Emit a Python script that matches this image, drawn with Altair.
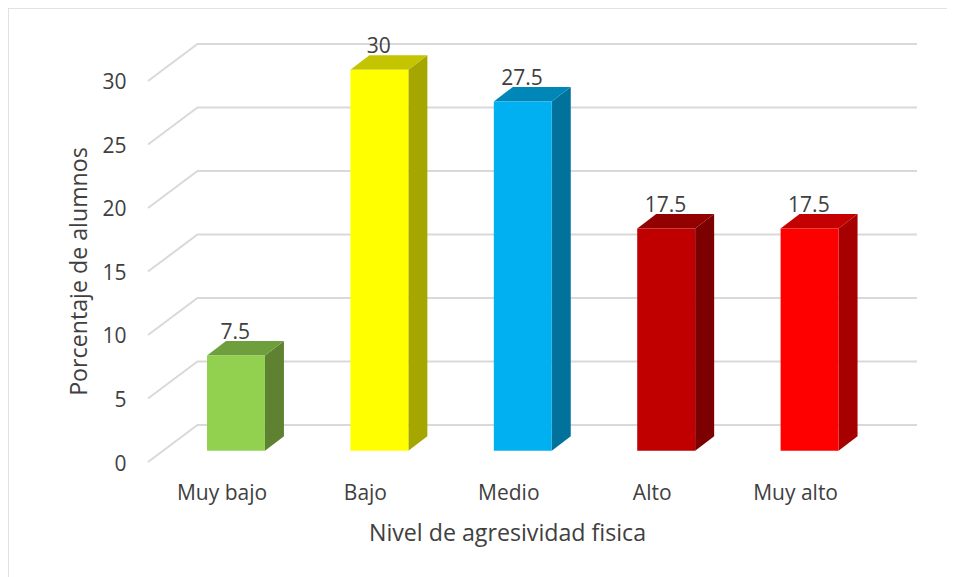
import altair as alt
import pandas as pd

categories = ["Muy bajo", "Bajo", "Medio", "Alto", "Muy alto"]
values = [7.5, 30, 27.5, 17.5, 17.5]
front_colors = ["#92d050", "#ffff00", "#00b0f0", "#c00000", "#ff0000"]
top_colors = ["#6f9e3d", "#c4c400", "#0087b8", "#930000", "#c40000"]
side_colors = ["#5e8232", "#a6a600", "#00729c", "#7c0000", "#a60000"]
ticks = [0, 5, 10, 15, 20, 25, 30]

FONT = "Open Sans"
TEXT = "#404040"
GRID = "#d9d9d9"
FS = 21
TFS = 23.2

# oblique 3D offsets in scale units
BAR_OFF_X, BAR_HALF, BAR_DX = 0.101, 0.202, 0.1325
BAR_OFF_Y, BAR_DY = 0.89, 1.14
WALL_X, WALL_Y = 0.345, 2.91
X_MIN, X_MAX, Y_MAX = -0.5126, 4.8501, 33.228

grid_rows = []
for t in ticks:
    grid_rows += [
        {"t": t, "o": 0, "x": X_MIN, "y": t},
        {"t": t, "o": 1, "x": X_MIN + WALL_X, "y": t + WALL_Y},
        {"t": t, "o": 2, "x": X_MAX, "y": t + WALL_Y},
    ]
grid_df = pd.DataFrame(grid_rows)

front_rows, side_rows, top_rows, label_rows = [], [], [], []
for i, (c, v) in enumerate(zip(categories, values)):
    l = i + BAR_OFF_X - BAR_HALF
    r = i + BAR_OFF_X + BAR_HALF
    y0 = BAR_OFF_Y
    y1 = v + BAR_OFF_Y
    front_rows.append({"c": c, "x": l, "x2": r, "y": y0, "y2": y1, "col": front_colors[i]})
    side_rows += [
        {"c": c, "x": r, "y": y0, "y2": y1, "col": side_colors[i]},
        {"c": c, "x": r + BAR_DX, "y": y0 + BAR_DY, "y2": y1 + BAR_DY, "col": side_colors[i]},
    ]
    top_rows += [
        {"c": c, "x": l, "y": y1, "y2": y1, "col": top_colors[i]},
        {"c": c, "x": l + BAR_DX, "y": y1, "y2": y1 + BAR_DY, "col": top_colors[i]},
        {"c": c, "x": r, "y": y1, "y2": y1 + BAR_DY, "col": top_colors[i]},
        {"c": c, "x": r + BAR_DX, "y": y1 + BAR_DY, "y2": y1 + BAR_DY, "col": top_colors[i]},
    ]
    label_rows.append({"x": i + BAR_OFF_X - 0.005, "y": y1 + BAR_DY, "label": f"{v:g}"})

x_scale = alt.Scale(domain=[X_MIN, X_MAX], nice=False, zero=False)
y_scale = alt.Scale(domain=[0, Y_MAX], nice=False, zero=False)
names = "[" + ",".join(f"'{c}'" for c in categories) + "]"

grid = alt.Chart(grid_df).mark_line(color=GRID, strokeWidth=2, clip=False).encode(
    x=alt.X(
        "x:Q",
        scale=x_scale,
        title="Nivel de agresividad fisica",
        axis=alt.Axis(
            values=list(range(len(categories))),
            labelExpr=f"{names}[datum.value]",
            domain=False,
            ticks=False,
            grid=False,
            labelFont=FONT,
            labelFontSize=FS,
            labelColor=TEXT,
            labelPadding=31,
            labelBaseline="middle",
            labelFlush=False,
            labelOverlap=False,
            titleFont=FONT,
            titleFontSize=TFS,
            titleFontWeight="normal",
            titleColor=TEXT,
            titleX=359,
            titleY=71,
            titleBaseline="middle",
        ),
    ),
    y=alt.Y(
        "y:Q",
        scale=y_scale,
        title="Porcentaje de alumnos",
        axis=alt.Axis(
            values=ticks,
            domain=False,
            ticks=False,
            grid=False,
            labelFont=FONT,
            labelFontSize=FS,
            labelColor=TEXT,
            labelPadding=22,
            labelOffset=2,
            labelBaseline="middle",
            labelFlush=False,
            titleFont=FONT,
            titleFontSize=TFS,
            titleFontWeight="normal",
            titleColor=TEXT,
            titleX=-69,
            titleY=231,
            titleBaseline="middle",
        ),
    ),
    detail="t:N",
    order="o:Q",
)

side = alt.Chart(pd.DataFrame(side_rows)).mark_area(opacity=1).encode(
    x=alt.X("x:Q", scale=x_scale),
    y=alt.Y("y:Q", scale=y_scale),
    y2="y2:Q",
    color=alt.Color("col:N", scale=None),
    detail="c:N",
)
top = alt.Chart(pd.DataFrame(top_rows)).mark_area(opacity=1).encode(
    x=alt.X("x:Q", scale=x_scale),
    y=alt.Y("y:Q", scale=y_scale),
    y2="y2:Q",
    color=alt.Color("col:N", scale=None),
    detail="c:N",
)
front = alt.Chart(pd.DataFrame(front_rows)).mark_rect().encode(
    x=alt.X("x:Q", scale=x_scale),
    x2="x2:Q",
    y=alt.Y("y:Q", scale=y_scale),
    y2="y2:Q",
    color=alt.Color("col:N", scale=None),
)
labels = alt.Chart(pd.DataFrame(label_rows)).mark_text(
    font=FONT, fontSize=FS, color=TEXT, baseline="bottom", dy=2
).encode(
    x=alt.X("x:Q", scale=x_scale),
    y=alt.Y("y:Q", scale=y_scale),
    text="label:N",
)
frame_left = alt.Chart(pd.DataFrame({"a": [0]})).mark_rule(color=GRID, strokeWidth=1.5, clip=False).encode(
    x=alt.value(-140), y=alt.value(-32), y2=alt.value(537)
)
frame_top = alt.Chart(pd.DataFrame({"a": [0]})).mark_rule(color=GRID, strokeWidth=1.5, clip=False).encode(
    x=alt.value(-140), x2=alt.value(799), y=alt.value(-32)
)

chart = (
    alt.layer(frame_left, frame_top, grid, side, top, front, labels)
    .properties(
        width=769,
        height=422,
        padding={"left": 140, "top": 32, "right": 30, "bottom": 115},
        autosize=alt.AutoSizeParams(type="none"),
        background="white",
    )
    .configure_view(stroke=None, strokeWidth=0)
)
chart.save("out.html", embed_options={"renderer": "svg", "actions": False})
